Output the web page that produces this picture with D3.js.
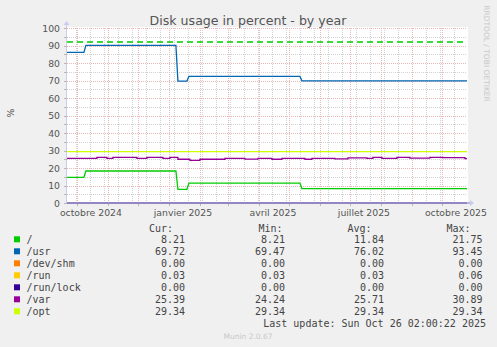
<!DOCTYPE html>
<html>
<head>
<meta charset="utf-8">
<script src="https://cdn.jsdelivr.net/npm/d3@7"></script>
<style>
  body { margin: 0; background: #f0f0f0; }
  svg { display: block; font-family: "DejaVu Sans", sans-serif; }
  .mono { font-family: "DejaVu Sans Mono", monospace; }
</style>
</head>
<body>
<svg id="chart" width="497" height="347"></svg>
<script>
// legend table
var names  = ["/", "/usr", "/dev/shm", "/run", "/run/lock", "/var", "/opt"];
var colors = ["#00cc00", "#0066b3", "#ff8000", "#ffcc00", "#330099", "#990099", "#ccff00"];
var curVals = ["8.21", "69.72", "0.00", "0.03", "0.00", "25.39", "29.34"];
var minVals = ["8.21", "69.47", "0.00", "0.03", "0.00", "24.24", "29.34"];
var avgVals = ["11.84", "76.02", "0.00", "0.03", "0.00", "25.71", "29.34"];
var maxVals = ["21.75", "93.45", "0.00", "0.06", "0.00", "30.89", "29.34"];

// step series for / and /usr (shared break dates)
var stepDates = ["2024-09-21", "2024-10-08", "2024-10-10", "2025-01-08", "2025-01-10",
                 "2025-01-19", "2025-01-21", "2025-05-12", "2025-05-14", "2025-10-26"];
var rootValues = [14.7, 14.7, 18.3, 18.3, 7.8, 7.8, 11.4, 11.4, 8.2, 8.2];
var usrValues  = [86.1, 86.1, 90.1, 90.1, 69.7, 69.7, 72.4, 72.4, 69.8, 69.8];

// /var wobbles
var varDates = ["2024-09-21", "2024-10-21", "2024-10-31", "2024-11-06", "2024-11-30", "2024-12-10",
                "2024-12-26", "2025-01-02", "2025-01-10", "2025-01-22", "2025-02-01", "2025-02-26",
                "2025-03-18", "2025-03-31", "2025-04-14", "2025-04-24", "2025-05-17", "2025-05-24",
                "2025-06-16", "2025-06-29", "2025-07-18", "2025-07-24", "2025-08-02", "2025-08-17",
                "2025-08-30", "2025-09-19", "2025-10-02", "2025-10-24"];
var varValues = [25.5, 26.1, 25.5, 26.1, 25.5, 26.1, 25.5, 26.1, 25.0, 24.4, 25.0, 25.5,
                 25.1, 25.5, 25.0, 25.5, 25.0, 25.5, 25.2, 25.8, 25.5, 26.1, 25.5, 26.1,
                 25.7, 26.1, 25.9, 25.4];

// flat ones
var shmValue = 0.00, runValue = 0.03, lockValue = 0.00, optValue = 29.34;
var warnLevel = 92;

var tickDates  = ["2024-10-15", "2025-01-15", "2025-04-15", "2025-07-15", "2025-10-15"];
var tickLabels = ["octobre 2024", "janvier 2025", "avril 2025", "juillet 2025", "octobre 2025"];
var yTicks = [0, 10, 20, 30, 40, 50, 60, 70, 80, 90, 100];

var svg = d3.select("#chart");
var parse = function(s) { return new Date(s + "T00:00:00"); };

var end = new Date("2025-10-26T02:00:22"),
    start = d3.timeDay.offset(end, -400);

var x = d3.scaleTime().domain([start, end]).range([67, 467]);
var y = d3.scaleLinear().domain([0, 100]).range([203, 28]);

var px = function(v) { return Math.round(v) + 0.5; };

// plot background
svg.append("rect")
  .attr("x", 67).attr("y", 27)
  .attr("width", 401).attr("height", 176)
  .attr("fill", "#ffffff");

// minor grid
var grid = svg.append("g");
var minorY = d3.range(5, 101, 10);
grid.selectAll(".hmin").data(minorY).enter().append("line")
  .attr("x1", 67).attr("x2", 467)
  .attr("y1", function(d) { return px(y(d)); }).attr("y2", function(d) { return px(y(d)); })
  .attr("stroke", "#d2d2d2").attr("stroke-dasharray", "1,1");

var refMonday = new Date("2025-08-18T00:00:00");
var weeks = d3.timeMonday.range(start, end).filter(function(d) {
  return Math.round((d - refMonday) / (7 * 864e5)) % 2 === 0;
});
grid.selectAll(".vmin").data(weeks).enter().append("line")
  .attr("y1", 28).attr("y2", 203)
  .attr("x1", function(d) { return px(x(d)); }).attr("x2", function(d) { return px(x(d)); })
  .attr("stroke", "#d2d2d2").attr("stroke-dasharray", "1,1");

// major grid
grid.selectAll(".hmaj").data(yTicks.slice(1)).enter().append("line")
  .attr("x1", 67).attr("x2", 467)
  .attr("y1", function(d) { return px(y(d)); }).attr("y2", function(d) { return px(y(d)); })
  .attr("stroke", "#ebb8b8").attr("stroke-dasharray", "1,1");

var months = d3.timeMonth.range(start, end);
grid.selectAll(".vmaj").data(months).enter().append("line")
  .attr("y1", 28).attr("y2", 203)
  .attr("x1", function(d) { return px(x(d)); }).attr("x2", function(d) { return px(x(d)); })
  .attr("stroke", "#ebb8b8").attr("stroke-dasharray", "1,1");

// series
var line = d3.line()
  .x(function(d) { return x(d[0]); })
  .y(function(d) { return y(d[1]); });

function flat(v) { return [[start, v], [end, v]]; }

var rootPts = stepDates.map(function(d, i) { return [parse(d), rootValues[i]]; });
var usrPts  = stepDates.map(function(d, i) { return [parse(d), usrValues[i]]; });
rootPts[0][0] = start; usrPts[0][0] = start;
rootPts[rootPts.length - 1][0] = end; usrPts[usrPts.length - 1][0] = end;

var varPts = varDates.map(function(d, i) { return [parse(d), varValues[i]]; });
varPts[0][0] = start;
varPts.push([end, varValues[varValues.length - 1]]);

var series = [rootPts, usrPts, flat(shmValue), flat(runValue), flat(lockValue), varPts, flat(optValue)];

svg.append("g").selectAll("path")
  .data(series).enter().append("path")
  .attr("d", function(d, i) { return i === 5 ? line.curve(d3.curveStepAfter)(d) : line.curve(d3.curveLinear)(d); })
  .attr("fill", "none")
  .attr("stroke", function(d, i) { return colors[i]; })
  .attr("stroke-width", 1.3);

// warning rule
svg.append("line")
  .attr("x1", 67).attr("x2", 467)
  .attr("y1", y(warnLevel)).attr("y2", y(warnLevel))
  .attr("stroke", "#00cc00").attr("stroke-width", 1.5)
  .attr("stroke-dasharray", "6,4");

// axes (drawn over the zero lines)
svg.append("line").attr("x1", 67).attr("x2", 471).attr("y1", 203).attr("y2", 203)
  .attr("stroke", "#a4a4dc").attr("stroke-width", 1.6);
svg.append("line").attr("x1", 66.5).attr("x2", 66.5).attr("y1", 24).attr("y2", 204)
  .attr("stroke", "#c8ccf0");
svg.append("path").attr("d", "M470,200L474,203L470,206Z").attr("fill", "#c8ccf0");
svg.append("path").attr("d", "M63.5,25L66.5,21L69.5,25Z").attr("fill", "#c8ccf0");

// tick marks
svg.append("g").selectAll("line").data(d3.range(0, 101, 5)).enter().append("line")
  .attr("x1", 64).attr("x2", 67)
  .attr("y1", function(d) { return px(y(d)); }).attr("y2", function(d) { return px(y(d)); })
  .attr("stroke", "#b8b8b8");
svg.append("g").selectAll("line").data(months).enter().append("line")
  .attr("y1", 204).attr("y2", 206)
  .attr("x1", function(d) { return px(x(d)); }).attr("x2", function(d) { return px(x(d)); })
  .attr("stroke", "#b8b8b8");

// tick labels
svg.append("g").selectAll("text").data(yTicks).enter().append("text")
  .attr("x", 60).attr("y", function(d) { return y(d) + 3.5; })
  .attr("text-anchor", "end")
  .attr("font-size", 9.3).attr("fill", "#555")
  .text(function(d) { return d; });

svg.append("g").selectAll("text").data(tickDates).enter().append("text")
  .attr("x", function(d) { return x(parse(d)); }).attr("y", 215.8)
  .attr("text-anchor", "middle")
  .attr("font-size", 9.3).attr("fill", "#555")
  .text(function(d, i) { return tickLabels[i]; });

// title and side texts
svg.append("text").attr("x", 248).attr("y", 24.5).attr("text-anchor", "middle")
  .attr("font-size", 12.6).attr("fill", "#555")
  .text("Disk usage in percent - by year");

svg.append("text").attr("transform", "translate(13.5,113) rotate(-90)")
  .attr("text-anchor", "middle").attr("font-size", 9.3).attr("fill", "#555")
  .text("%");

svg.append("text").attr("transform", "translate(484,53.5) rotate(90)")
  .attr("text-anchor", "middle").attr("font-size", 7.5).attr("fill", "#c8c8c8")
  .text("RRDTOOL / TOBI OETIKER");

svg.append("text").attr("x", 248).attr("y", 338.5).attr("text-anchor", "middle")
  .attr("font-size", 7.5).attr("fill", "#c8c8c8")
  .text("Munin 2.0.67");

// legend
var leg = svg.append("g").attr("class", "mono").attr("font-size", 10).attr("fill", "#444");
var heads = [["Cur:", 149], ["Min:", 258.5], ["Avg:", 347.5], ["Max:", 446.5]];
leg.selectAll(".head").data(heads).enter().append("text")
  .attr("x", function(d) { return d[1]; }).attr("y", 231.8)
  .text(function(d) { return d[0]; });

var rows = leg.selectAll(".row").data(names).enter().append("g")
  .attr("transform", function(d, i) { return "translate(0," + (239.3 + i * 12) + ")"; });
rows.append("rect").attr("x", 14).attr("y", -3).attr("width", 6).attr("height", 6)
  .attr("fill", function(d, i) { return colors[i]; });
rows.append("text").attr("x", 26.5).attr("y", 3.5).text(function(d) { return d; });

var cols = [[curVals, 185], [minVals, 285], [avgVals, 384], [maxVals, 482.5]];
cols.forEach(function(c) {
  rows.append("text").attr("x", c[1]).attr("y", 3.5).attr("text-anchor", "end")
    .text(function(d, i) { return c[0][i]; });
});

leg.append("text").attr("x", 486).attr("y", 326.8).attr("text-anchor", "end")
  .text("Last update: Sun Oct 26 02:00:22 2025");
</script>
</body>
</html>
